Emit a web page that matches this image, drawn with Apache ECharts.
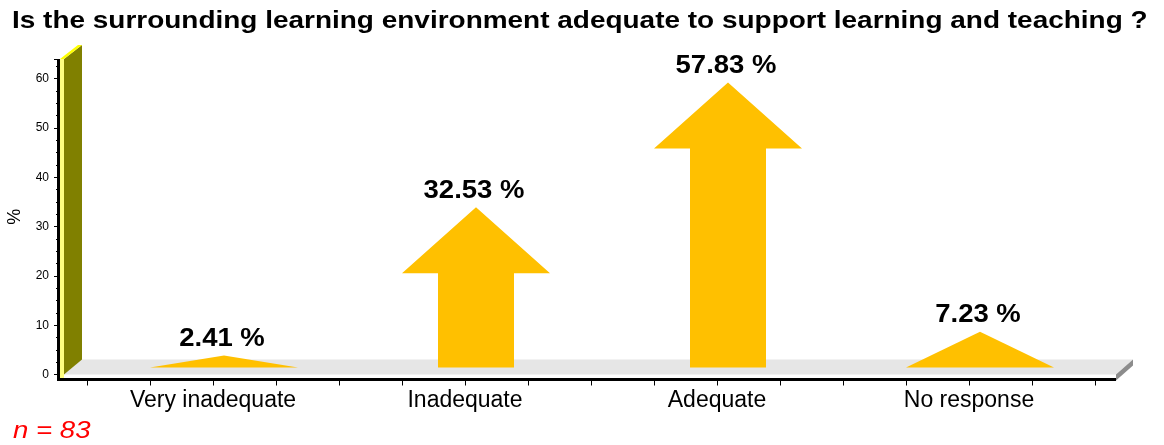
<!DOCTYPE html>
<html>
<head>
<meta charset="utf-8">
<script src="https://cdn.jsdelivr.net/npm/echarts@6/dist/echarts.min.js"></script>
<style>
  html, body { margin: 0; padding: 0; background: #fff; }
  #chart { width: 1164px; height: 445px; }
</style>
</head>
<body>
<div id="chart"></div>
<script>
var categories = ['Very inadequate', 'Inadequate', 'Adequate', 'No response'];
var percentValues = [2.41, 32.53, 57.83, 7.23];
var yMin = 0;
var yMax = 64;
var yStep = 10;
var chartTitle = 'Is the surrounding learning environment adequate to support learning and teaching ?';
var sampleNote = 'n = 83';

var font = 'Arial, "Liberation Sans", sans-serif';
var arrowColor = '#FFC000';

var myChart = echarts.init(document.getElementById('chart'));

// arrows: one per category, drawn on the value x axis (index 1)
var arrowData = percentValues.map(function (v, i) { return [i, v]; });

function renderArrow(params, api) {
    var idx = api.value(0);
    var v = api.value(1);
    var base = api.coord([idx, 0]);
    var tip = api.coord([idx, v]);
    var cx = base[0] + 11;
    var by = base[1] - 7;
    var ty = tip[1] - 7;
    var h = by - ty;
    var headH = Math.min(66, h);
    var hw = 74, sw = 38;
    var pts;
    if (headH >= h) {
        pts = [[cx, ty], [cx + hw, by], [cx - hw, by]];
    } else {
        pts = [[cx, ty], [cx + hw, ty + headH], [cx + sw, ty + headH], [cx + sw, by],
               [cx - sw, by], [cx - sw, ty + headH], [cx - hw, ty + headH]];
    }
    return {
        type: 'group',
        children: [{
            type: 'polygon',
            shape: { points: pts },
            style: { fill: arrowColor }
        }, {
            type: 'text',
            x: cx - 2,
            y: ty - 4,
            scaleX: 1.1,
            style: {
                text: v.toFixed(2) + ' %',
                x: 0,
                y: 0,
                align: 'center',
                verticalAlign: 'bottom',
                font: 'bold 25px ' + font,
                fill: '#000'
            }
        }]
    };
}

// the pseudo 3d wall, floor and black frame
function renderFrame(params, api) {
    var o = api.coord([-0.5, yMin]);
    var r = api.coord([3.5, yMin]);
    var t = api.coord([-0.5, yMax]);
    var ax = o[0] - 28;
    var fy = o[1];
    return {
        type: 'group',
        children: [{
            type: 'polygon',
            shape: { points: [[ax + 5, fy], [ax + 22, fy - 15], [r[0] + 38, fy - 15], [r[0] + 21, fy]] },
            style: { fill: '#E6E6E6' }
        }, {
            type: 'polygon',
            shape: { points: [[r[0] + 21, fy], [r[0] + 38, fy - 15], [r[0] + 38, fy - 9], [r[0] + 21, fy + 6]] },
            style: { fill: '#8C8C8C' }
        }, {
            type: 'polygon',
            shape: { points: [[ax + 5, t[1]], [ax + 23, t[1] - 14], [ax + 23, fy - 15], [ax + 5, fy]] },
            style: { fill: '#808000' }
        }, {
            type: 'polygon',
            shape: { points: [[ax + 1, t[1]], [ax + 5, t[1]], [ax + 23, t[1] - 14], [ax + 19, t[1] - 14]] },
            style: { fill: '#FFFF00' }
        }, {
            type: 'rect',
            shape: { x: ax + 1, y: t[1], width: 4, height: fy + 4 - t[1] },
            style: { fill: '#FFFF80' }
        }, {
            type: 'line',
            shape: { x1: ax - 0.5, y1: t[1], x2: ax - 0.5, y2: fy + 6.5 },
            style: { stroke: '#000', lineWidth: 3 }
        }, {
            type: 'line',
            shape: { x1: ax - 2, y1: fy + 5, x2: r[0] + 21, y2: fy + 5 },
            style: { stroke: '#000', lineWidth: 3 }
        }]
    };
}

var option = {
    animation: false,
    grid: { left: 87, right: 69, top: 59, bottom: 70.5, containLabel: false, outerBoundsMode: 'none' },
    xAxis: [{
        type: 'category',
        position: 'bottom',
        data: categories,
        axisLine: { show: false },
        axisTick: { show: false },
        axisLabel: { fontSize: 23, color: '#000', fontFamily: font, margin: 15 }
    }, {
        type: 'value',
        position: 'bottom',
        min: -0.5,
        max: 3.5,
        interval: 0.25,
        offset: 5,
        axisLine: { show: false, onZero: false },
        axisTick: { show: true, length: 6, lineStyle: { color: '#000', width: 1 } },
        axisLabel: { show: false },
        splitLine: { show: false }
    }],
    yAxis: {
        type: 'value',
        min: yMin,
        max: yMax,
        interval: yStep,
        offset: 28,
        name: '%',
        nameLocation: 'middle',
        nameRotate: 90,
        nameGap: 35,
        nameTextStyle: { fontSize: 18, color: '#000', fontFamily: font },
        axisLine: { show: false, onZero: false },
        axisTick: { show: true, length: 5, lineStyle: { color: '#000' } },
        minorTick: { show: true, splitNumber: 4, length: 3, lineStyle: { color: '#000' } },
        axisLabel: { fontSize: 12, color: '#000', fontFamily: font, margin: 10, showMaxLabel: false },
        splitLine: { show: false }
    },
    series: [{
        type: 'custom',
        xAxisIndex: 1,
        z: 1,
        renderItem: renderFrame,
        data: [[0, 0]],
        silent: true
    }, {
        type: 'custom',
        xAxisIndex: 1,
        z: 2,
        renderItem: renderArrow,
        data: arrowData
    }],
    graphic: [{
        type: 'text',
        x: 12,
        y: 9,
        scaleX: 1.165,
        style: { text: chartTitle, font: 'bold 24px ' + font, fill: '#000' }
    }, {
        type: 'text',
        x: 13,
        y: 420,
        scaleX: 1.2,
        style: { text: sampleNote, font: 'italic 23px ' + font, fill: '#FF0000' }
    }]
};

myChart.setOption(option);
</script>
</body>
</html>
